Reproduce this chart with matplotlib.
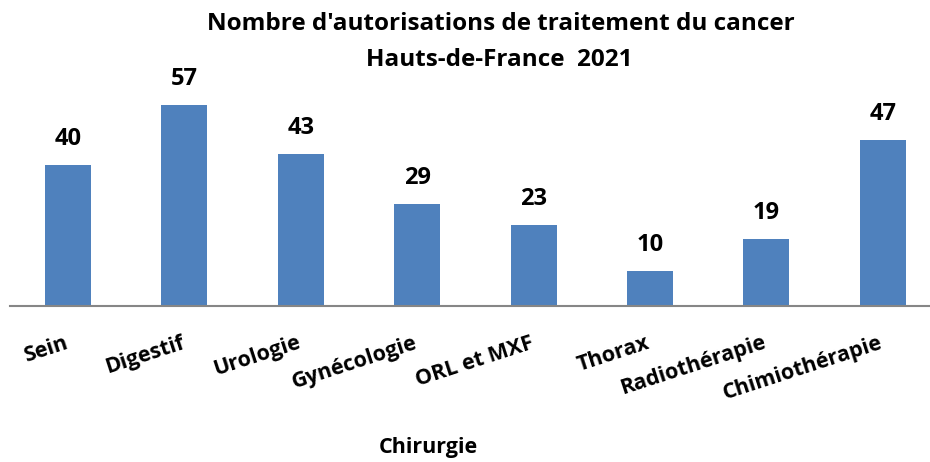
import matplotlib.pyplot as plt
import matplotlib.transforms as mtransforms

categories = ["Sein", "Digestif", "Urologie", "Gynécologie", "ORL et MXF",
              "Thorax", "Radiothérapie", "Chimiothérapie"]
counts = [40, 57, 43, 29, 23, 10, 19, 47]

plt.rcParams['font.family'] = ['Open Sans', 'DejaVu Sans']
plt.rcParams['font.weight'] = 'bold'

W, H = 930, 462
fig = plt.figure(figsize=(W / 100, H / 100), dpi=100)

# axis runs a little past the right edge, like the original layout
x0, x1 = 9.8, 941.0
base_y = 306
px_per_unit = 3.525
ymax = 60
ax = fig.add_axes([x0 / W, (H - base_y) / H, (x1 - x0) / W, ymax * px_per_unit / H])

pos = range(len(categories))
ax.bar(pos, counts, width=0.395, color='#4F81BD')
ax.set_xlim(-0.5, len(categories) - 0.5)
ax.set_ylim(0, ymax)

for i, v in zip(pos, counts):
    ax.annotate(str(v), (i, v), xytext=(0, 26 * 0.72), textcoords='offset points',
                ha='center', va='center', fontsize=17, fontweight='bold')

for s in ['top', 'right', 'left']:
    ax.spines[s].set_visible(False)
ax.spines['bottom'].set_color('#868686')
ax.spines['bottom'].set_linewidth(1.5)
ax.set_yticks([])
ax.set_xticks(list(pos))
ax.set_xticklabels(categories, rotation=18, ha='right', va='top',
                   rotation_mode='anchor', fontsize=15.5, fontweight='bold')
ax.tick_params(axis='x', length=0, pad=19)
shift = mtransforms.ScaledTranslation(-4 / 100, 0, fig.dpi_scale_trans)
for lbl in ax.get_xticklabels():
    lbl.set_transform(lbl.get_transform() + shift)

fig.text(501 / W, 1 - 24 / H, "Nombre d'autorisations de traitement du cancer",
         ha='center', va='center', fontsize=17.5, fontweight='bold')
fig.text(499 / W, 1 - 60 / H, "Hauts-de-France  2021",
         ha='center', va='center', fontsize=17.5, fontweight='bold')
fig.text(428 / W, 1 - 448 / H, "Chirurgie",
         ha='center', va='center', fontsize=15.5, fontweight='bold')

fig.savefig('out.png', dpi=100)
